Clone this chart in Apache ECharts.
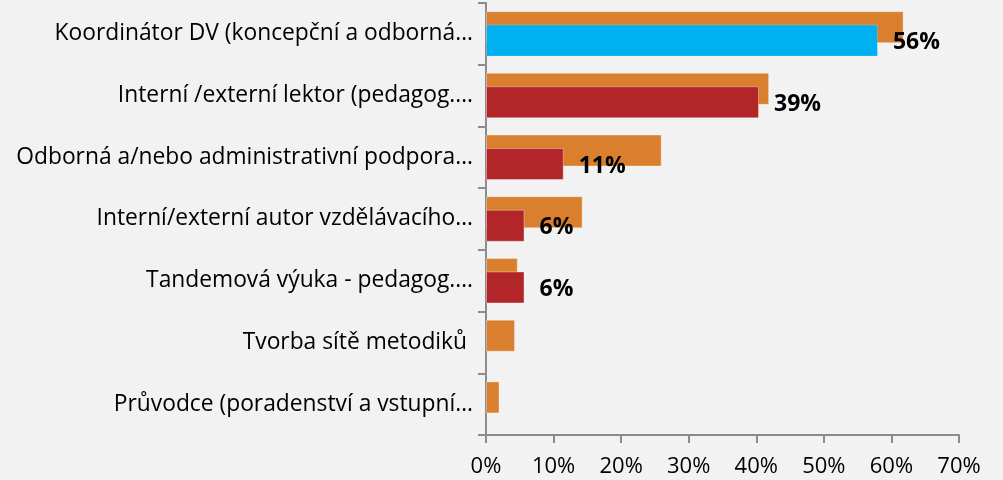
<!DOCTYPE html>
<html>
<head>
<meta charset="utf-8">
<script src="https://cdn.jsdelivr.net/npm/echarts@6/dist/echarts.min.js"></script>
<style>
html,body{margin:0;padding:0;background:#f2f2f2;}
#c{width:1003px;height:480px;}
</style>
</head>
<body>
<div id="c"></div>
<script>
const categories = [
  'Koordinátor DV (koncepční a odborná…',
  'Interní /externí lektor (pedagog.…',
  'Odborná a/nebo administrativní podpora…',
  'Interní/externí autor vzdělávacího…',
  'Tandemová výuka - pedagog.…',
  'Tvorba sítě metodiků ',
  'Průvodce (poradenství a vstupní…'
];
const backValues = [0.618, 0.419, 0.260, 0.143, 0.047, 0.043, 0.020];
const frontValues = [0.580, 0.404, 0.115, 0.057, 0.057, null, null];
const frontLabels = ['56%', '39%', '11%', '6%', '6%', '', ''];
const xTicks = [0, 0.1, 0.2, 0.3, 0.4, 0.5, 0.6, 0.7];

const chart = echarts.init(document.getElementById('c'), null, {renderer: 'canvas'});
const font = '"Open Sans", "Noto Sans", sans-serif';
chart.setOption({
  backgroundColor: '#f2f2f2',
  animation: false,
  textStyle: {fontFamily: font},
  grid: {left: 486, right: 44, top: 3, bottom: 45, containLabel: false},
  xAxis: {
    type: 'value',
    min: xTicks[0],
    max: xTicks[xTicks.length - 1],
    interval: 0.1,
    splitLine: {show: false},
    axisLine: {show: true, lineStyle: {color: '#8c8c8c', width: 2}},
    axisTick: {show: true, length: 8, lineStyle: {color: '#8c8c8c', width: 2}},
    axisLabel: {
      margin: 21, fontSize: 22, color: '#000', fontFamily: font,
      formatter: v => Math.round(v * 100) + '%'
    }
  },
  yAxis: {
    type: 'category',
    inverse: true,
    data: categories,
    axisLine: {show: true, lineStyle: {color: '#8c8c8c', width: 2}},
    axisTick: {show: true, length: 8, lineStyle: {color: '#8c8c8c', width: 2}},
    axisLabel: {margin: 13, fontSize: 22.8, color: '#000', fontFamily: font}
  },
  series: [
    {
      type: 'bar',
      data: backValues,
      barWidth: 32,
      barGap: '-58%',
      itemStyle: {color: '#d97f2e', borderColor: 'rgba(255,255,255,0.35)', borderWidth: 1}
    },
    {
      type: 'bar',
      data: frontValues.map((v, i) => i === 0 ? {value: v, itemStyle: {color: '#00b0f0', borderColor: 'rgba(255,255,255,0.2)'}} : v),
      barWidth: 32,
      barGap: '-58%',
      itemStyle: {color: '#b22528', borderColor: 'rgba(255,255,255,0.35)', borderWidth: 1},
      label: {
        show: true,
        position: 'right',
        distance: 15,
        fontSize: 23,
        fontWeight: 'bold',
        color: '#000',
        fontFamily: font,
        offset: [0, 2],
        formatter: p => frontLabels[p.dataIndex]
      }
    }
  ]
});
</script>
</body>
</html>
